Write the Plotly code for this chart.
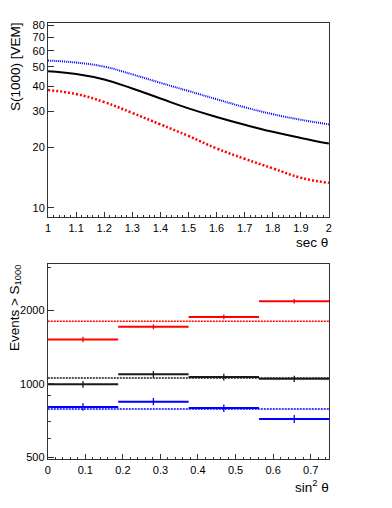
import numpy as np
import plotly.graph_objects as go


# TOP PANEL: S(1000) vs sec(theta)
sec_theta = [1.0, 1.1, 1.2, 1.3, 1.4, 1.5, 1.6, 1.7, 1.8, 1.9, 2.0]
s1000_mid = [47.5, 46.0, 43.2, 39.0, 34.8, 31.1, 28.2, 25.8, 23.8, 22.2, 20.8]
s1000_high = [53.6, 52.4, 50.0, 45.8, 41.6, 37.9, 34.5, 31.5, 29.1, 27.3, 25.9]
s1000_low = [38.3, 36.6, 33.4, 29.5, 25.9, 22.7, 19.7, 17.5, 15.7, 14.1, 13.3]

# BOTTOM PANEL: events above S1000 per sin^2(theta) bin
sin2_edges = [0.0, 0.1875, 0.375, 0.5625, 0.75]
red_counts = [1520, 1714, 1881, 2182]
red_err = [39, 41, 43, 47]
black_counts = [997, 1097, 1067, 1050]
black_err = [32, 33, 33, 32]
blue_counts = [806, 847, 797, 720]
blue_err = [28, 29, 28, 27]
# flat (isotropic) expectations
red_flat = 1807
black_flat = 1057
blue_flat = 791


W, H = 392, 508
font = "Liberation Sans, Arial, sans-serif"

fig = go.Figure()

# curves
fig.add_trace(go.Scatter(x=sec_theta, y=s1000_high, mode='lines', line_shape='spline',
                         line=dict(color='#0000ff', width=2, dash='1px,1px', smoothing=1.3),
                         xaxis='x', yaxis='y'))
fig.add_trace(go.Scatter(x=sec_theta, y=s1000_mid, mode='lines', line_shape='spline',
                         line=dict(color='black', width=2, smoothing=1.3),
                         xaxis='x', yaxis='y'))
fig.add_trace(go.Scatter(x=sec_theta, y=s1000_low, mode='lines', line_shape='spline',
                         line=dict(color='#ff0000', width=2.5, dash='2px,2px', smoothing=1.3),
                         xaxis='x', yaxis='y'))

# histograms
edges = np.array(sin2_edges)
centres = 0.5*(edges[1:] + edges[:-1])
halfw = 0.5*(edges[1:] - edges[:-1])
for counts, err, flat, col in [(red_counts, red_err, red_flat, '#ff0000'),
                               (black_counts, black_err, black_flat, '#1a1a1a'),
                               (blue_counts, blue_err, blue_flat, '#0000ff')]:
    fig.add_trace(go.Scatter(x=[edges[0], edges[-1]], y=[flat, flat], mode='lines',
                             line=dict(color=col, width=1.5, dash='2px,1px'),
                             xaxis='x2', yaxis='y2'))
    fig.add_trace(go.Scatter(x=centres, y=counts, mode='markers',
                             marker=dict(size=0.1, color=col),
                             error_x=dict(type='data', array=halfw, width=0, thickness=2, color=col),
                             error_y=dict(type='data', array=err, width=0, thickness=1.3, color=col),
                             xaxis='x2', yaxis='y2'))

axis_common = dict(showgrid=False, zeroline=False, showline=True, linecolor='#333333',
                   linewidth=1, mirror=True, ticks='inside', tickcolor='#333333',
                   tickfont=dict(family=font, size=11, color='black'))

fig.update_layout(
    width=W, height=H,
    margin=dict(l=0, r=0, t=0, b=0),
    paper_bgcolor='white', plot_bgcolor='white',
    showlegend=False,
    xaxis=dict(domain=[0.1167, 0.8444], anchor='y', range=[1, 2],
               dtick=0.1, tick0=1, ticklen=5,
               minor=dict(dtick=0.02, ticks='inside', ticklen=2.5, tickcolor='#333333'),
               **axis_common),
    yaxis=dict(domain=[0.5722, 0.9606], anchor='x', type='log',
               range=[np.log10(8.98), np.log10(82.5)],
               tickvals=[10, 20, 30, 40, 50, 60, 70, 80], ticklen=6,
               **axis_common),
    xaxis2=dict(domain=[0.1160, 0.8457], anchor='y2', range=[0, 0.75],
                dtick=0.1, tick0=0, ticklen=5,
                minor=dict(dtick=0.02, ticks='inside', ticklen=2.5, tickcolor='#333333'),
                **axis_common),
    yaxis2=dict(domain=[0.0892, 0.4783], anchor='x2', type='log',
                range=[np.log10(492), np.log10(3085)],
                tickvals=[500, 1000, 2000], ticklen=6,
                minor=dict(tickvals=[600, 700, 800, 900, 3000], ticks='inside',
                           ticklen=3, tickcolor='#333333'),
                **axis_common),
)

title_font = dict(family=font, size=13.5, color='black')
fig.add_annotation(text="S(1000) [VEM]", x=12/W, y=1-64/H, xref='paper', yref='paper',
                   textangle=-90, showarrow=False, xanchor='center', yanchor='middle',
                   font=title_font)
fig.add_annotation(text="sec θ", x=332/W, y=1-242.5/H, xref='paper', yref='paper',
                   showarrow=False, xanchor='right', yanchor='middle', font=title_font)
fig.add_annotation(text="Events > S<sub>1000</sub>", x=12/W, y=1-308.5/H,
                   xref='paper', yref='paper', textangle=-90, showarrow=False,
                   xanchor='center', yanchor='middle', font=title_font)
fig.add_annotation(text="sin<sup>2</sup> θ", x=333/W, y=1-490/H, xref='paper', yref='paper',
                   showarrow=False, xanchor='right', yanchor='middle', font=title_font)

# drop the default body margin so the figure sits at the window origin
fig.write_html("out.html", config={'displayModeBar': False},
               post_script="document.body.style.margin='0';")
